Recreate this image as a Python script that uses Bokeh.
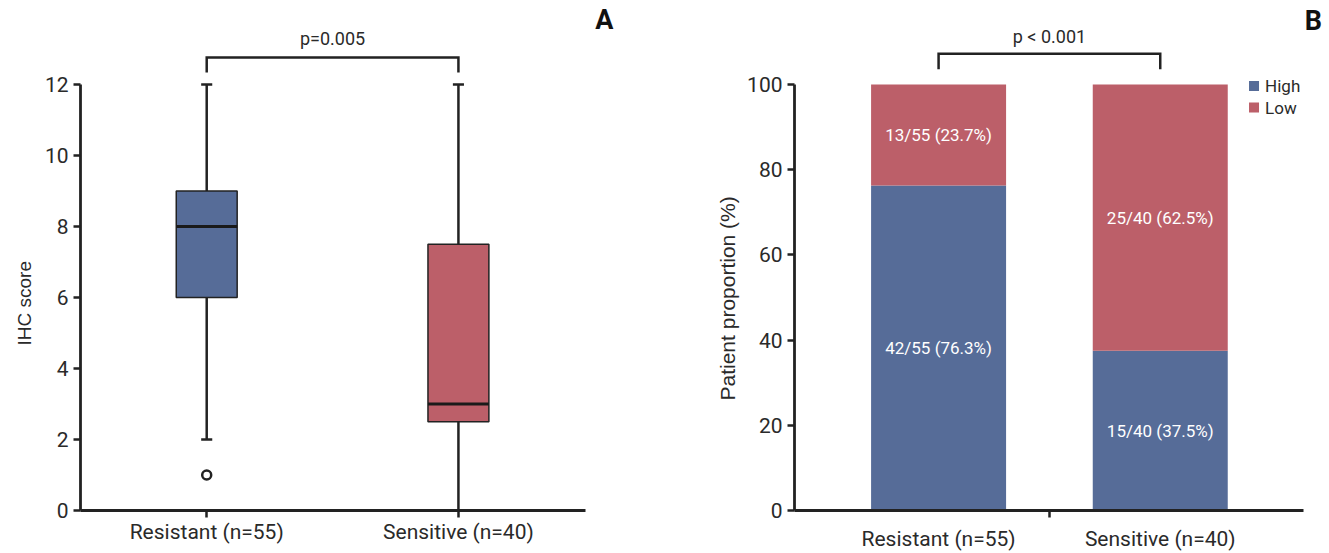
from bokeh.plotting import figure
from bokeh.layouts import row
from bokeh.models import FixedTicker, Range1d, Title
from bokeh.core.properties import value
from bokeh.embed import file_html
from bokeh.resources import INLINE

# ---------------- data ----------------
groups = ["Resistant (n=55)", "Sensitive (n=40)"]
box_q1 = [6.0, 2.5]
box_median = [8.0, 3.0]
box_q3 = [9.0, 7.5]
whisker_low = [2.0, 0.0]
whisker_high = [12.0, 12.0]
outlier_group = [0]
outlier_value = [1.0]
ihc_ticks = [0, 2, 4, 6, 8, 10, 12]
p_value_a = "p=0.005"

high_pct = [76.3, 37.5]
low_pct = [23.7, 62.5]
high_labels = ["42/55 (76.3%)", "15/40 (37.5%)"]
low_labels = ["13/55 (23.7%)", "25/40 (62.5%)"]
prop_ticks = [0, 20, 40, 60, 80, 100]
p_value_b = "p < 0.001"
legend_items = ["High", "Low"]

# ---------------- style ----------------
FONT = "Roboto"
FONT_Y = "Liberation Sans"
BLUE = "#566C98"
RED = "#BC5F69"
INK = "#222222"
TXT = "#2a2a2a"

xs = [i + 1 for i in range(len(groups))]
colors = [BLUE, RED]
FRAME_H = 510


def style_axes(p):
    p.outline_line_color = None
    p.xgrid.grid_line_color = None
    p.ygrid.grid_line_color = None
    p.background_fill_color = None
    p.border_fill_color = "white"
    for ax in (p.xaxis[0], p.yaxis[0]):
        ax.axis_line_width = 2.8
        ax.axis_line_color = INK
        ax.major_tick_line_width = 2.5
        ax.major_tick_line_color = INK
        ax.major_tick_in = 0
        ax.major_tick_out = 7
        ax.minor_tick_line_color = None
        ax.major_label_text_font = FONT
        ax.major_label_text_font_size = "21px"
        ax.major_label_text_color = TXT
    p.xaxis.major_label_standoff = 2
    p.yaxis.major_label_standoff = 5


def side_title(text, size, offset, standoff):
    return Title(text=text, align="left", offset=offset, standoff=standoff,
                 text_font=FONT_Y, text_font_size=size, text_font_style="normal",
                 text_color=TXT)


# ---------------- Panel A: box plot ----------------
pA = figure(frame_width=572, frame_height=FRAME_H, x_range=Range1d(0.4986, 2.771),
            y_range=Range1d(0, 14.366), output_backend="svg",
            toolbar_location=None, min_border_left=80, min_border_right=0,
            min_border_top=0, min_border_bottom=0)
style_axes(pA)
pA.xaxis.ticker = FixedTicker(ticks=xs)
pA.xaxis.major_label_overrides = {x: g for x, g in zip(xs, groups)}
pA.xaxis.bounds = (0.4986, 2.505)
pA.yaxis.ticker = FixedTicker(ticks=ihc_ticks)
pA.yaxis.bounds = (0, 12)
pA.add_layout(side_title("IHC score", "19px", 165, 14), "left")

half_box = 0.121
half_cap = 0.022
# whiskers
pA.segment(x0=xs, y0=box_q3, x1=xs, y1=whisker_high, line_color=INK, line_width=2.5)
pA.segment(x0=xs, y0=whisker_low, x1=xs, y1=box_q1, line_color=INK, line_width=2.5)
pA.segment(x0=[x - half_cap for x in xs], y0=whisker_high,
           x1=[x + half_cap for x in xs], y1=whisker_high, line_color=INK, line_width=2.5)
pA.segment(x0=[x - half_cap for x in xs], y0=whisker_low,
           x1=[x + half_cap for x in xs], y1=whisker_low, line_color=INK, line_width=2.5)
# boxes
pA.vbar(x=xs, bottom=box_q1, top=box_q3, width=2 * half_box, fill_color=colors,
        line_color=INK, line_width=1.5)
# medians
pA.segment(x0=[x - half_box for x in xs], y0=box_median,
           x1=[x + half_box for x in xs], y1=box_median, line_color="#1a1a1a", line_width=3)
# outliers
pA.scatter(x=[xs[g] for g in outlier_group], y=outlier_value, size=9,
           fill_color="white", line_color=INK, line_width=2.5)
# bracket
pA.line(x=[xs[0], xs[0], xs[1], xs[1]], y=[12.34, 12.76, 12.76, 12.34],
        line_color=INK, line_width=2.5, line_join="miter")
pA.text(x=[(xs[0] + xs[1]) / 2], y=[13.29], text=[p_value_a], text_align="center",
        text_baseline="middle", text_font=value(FONT), text_font_size="18px",
        text_color=TXT)
pA.text(x=[2.58], y=[13.82], text=["A"], text_align="center", text_baseline="middle",
        text_font=value(FONT), text_font_size="27px", text_font_style="bold",
        text_color="#111111")

# ---------------- Panel B: stacked bars ----------------
pB = figure(frame_width=533, frame_height=FRAME_H, x_range=Range1d(0.35, 2.7545),
            y_range=Range1d(0, 119.72), output_backend="svg",
            toolbar_location=None, min_border_left=142, min_border_right=0,
            min_border_top=0, min_border_bottom=0)
style_axes(pB)
pB.xaxis.ticker = FixedTicker(ticks=xs, minor_ticks=[1.5])
pB.xaxis.major_label_overrides = {x: g for x, g in zip(xs, groups)}
pB.xaxis.major_tick_out = 0
pB.xaxis.major_label_standoff = 9
pB.xaxis.minor_tick_out = 7
pB.xaxis.minor_tick_in = 0
pB.xaxis.minor_tick_line_color = INK
pB.xaxis.minor_tick_line_width = 2.5
pB.xaxis.bounds = (0.35, 2.645)
pB.yaxis.ticker = FixedTicker(ticks=prop_ticks)
pB.yaxis.bounds = (0, 100)
pB.add_layout(side_title("Patient proportion (%)", "21px", 110, 12), "left")

tops = [h + l for h, l in zip(high_pct, low_pct)]
bar_w = 0.609
pB.vbar(x=xs, bottom=0, top=high_pct, width=bar_w, fill_color=BLUE, line_color=None)
pB.vbar(x=xs, bottom=high_pct, top=tops, width=bar_w, fill_color=RED, line_color=None)
pB.text(x=xs, y=[h / 2 for h in high_pct], text=high_labels, text_align="center",
        text_baseline="middle", text_font=value(FONT), text_font_size="17px",
        text_color="white")
pB.text(x=xs, y=[h + l / 2 for h, l in zip(high_pct, low_pct)], text=low_labels,
        text_align="center", text_baseline="middle", text_font=value(FONT),
        text_font_size="17px", text_color="white")
# bracket
pB.line(x=[xs[0], xs[0], xs[1], xs[1]], y=[103.6, 107.2, 107.2, 103.6],
        line_color=INK, line_width=2.5, line_join="miter")
pB.text(x=[(xs[0] + xs[1]) / 2], y=[111.2], text=[p_value_b], text_align="center",
        text_baseline="middle", text_font=value(FONT), text_font_size="18px",
        text_color=TXT)
# legend
pB.scatter(x=[2.423, 2.423], y=[99.65, 94.6], marker="square", size=10,
           fill_color=[BLUE, RED], line_color=None)
pB.text(x=[2.473, 2.473], y=[99.65, 94.6], text=legend_items, text_align="left",
        text_baseline="middle", text_font=value(FONT), text_font_size="17px",
        text_color=TXT)
pB.text(x=[2.691], y=[114.9], text=["B"], text_align="center", text_baseline="middle",
        text_font=value(FONT), text_font_size="27px", text_font_style="bold",
        text_color="#111111")

layout = row(pA, pB)
open("out.html", "w").write(file_html(layout, INLINE))
